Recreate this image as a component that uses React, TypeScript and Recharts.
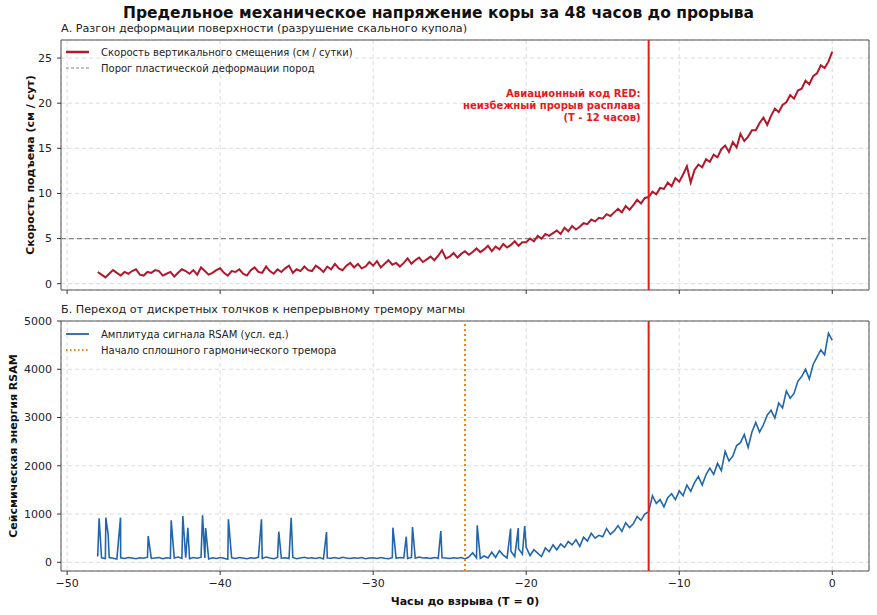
import React from 'react';
import { LineChart, Line, XAxis, YAxis, CartesianGrid, ReferenceLine, ReferenceArea } from 'recharts';

// sampling of the series: every 15 minutes from T-48h to T
const START_HOUR = -48;
const STEP_HOURS = 0.25;

// Uplift rate, cm / day
const upliftRate = [
  1.3, 1.0, 0.7, 1.1, 1.5, 1.2, 0.9, 1.3, 1.1, 1.4, 1.6, 1.0, 0.9, 1.3, 1.2, 1.5,
  1.4, 0.9, 1.1, 1.3, 0.8, 1.2, 1.6, 1.4, 1.1, 1.5, 1.0, 1.8, 1.4, 1.0, 1.2, 1.5,
  1.7, 1.2, 0.9, 1.4, 1.3, 1.6, 1.1, 0.9, 1.5, 1.8, 1.3, 1.2, 1.9, 1.4, 1.1, 1.6,
  1.3, 1.7, 2.0, 1.2, 1.6, 1.4, 1.9, 1.5, 1.4, 2.0, 1.7, 1.3, 1.9, 1.6, 2.2, 1.7,
  1.5, 2.0, 2.3, 1.8, 2.2, 1.7, 1.9, 2.4, 2.0, 2.5, 1.8, 2.2, 2.6, 2.1, 2.3, 1.9,
  2.3, 2.8, 2.2, 2.6, 2.9, 2.4, 2.7, 3.0, 2.6, 3.1, 3.7, 2.8, 3.0, 3.4, 2.9, 3.3,
  3.6, 3.2, 3.5, 3.9, 3.5, 3.8, 4.2, 3.6, 4.1, 3.8, 4.4, 4.0, 4.3, 4.7, 4.2, 4.6,
  4.6, 5.0, 4.7, 5.3, 5.0, 5.5, 5.3, 5.6, 5.9, 5.5, 6.2, 5.8, 6.4, 6.0, 6.3, 6.7,
  6.6, 7.1, 6.9, 7.3, 7.2, 7.7, 7.5, 7.9, 8.3, 7.9, 8.6, 8.2, 8.7, 9.3, 8.9, 9.5,
  9.6, 10.2, 9.9, 10.6, 10.5, 11.2, 10.8, 11.7, 11.3, 12.1, 13.0, 11.2,
  12.6, 13.2, 12.9, 13.8, 13.5, 14.3, 14.0, 14.9, 15.3, 14.6, 15.7, 15.1,
  16.6, 15.8, 16.3, 17.0, 17.0, 17.8, 18.4, 17.6, 18.6, 19.4, 19.0, 19.8,
  20.1, 20.9, 20.5, 21.4, 21.6, 22.5, 22.1, 23.0, 23.3, 24.2, 23.9, 24.6,
  25.7,
];

// RSAM background level, same sampling
const rsamBase = [
  120, 95, 80, 100, 85, 70, 95, 80, 100, 90, 75, 95, 85, 105, 80, 90,
  100, 75, 95, 85, 90, 110, 80, 95, 75, 100, 85, 105, 90, 70, 95, 80,
  100, 85, 65, 95, 80, 100, 90, 75, 95, 85, 105, 80, 110, 90, 75, 100,
  85, 95, 80, 100, 75, 90, 105, 85, 95, 80, 100, 70, 90, 85, 100, 80,
  105, 90, 80, 95, 85, 100, 75, 90, 95, 80, 100, 85, 75, 95, 85, 100,
  90, 80, 100, 85, 110, 90, 95, 80, 100, 85, 95, 90, 80, 95, 85, 100,
  70, 110, 200, 90, 80, 130, 90, 210, 100, 240, 150, 90, 230, 120, 280, 170,
  310, 140, 260, 190, 120, 300, 220, 360, 260, 380, 310, 430, 360, 470, 330, 520,
  440, 600, 500, 560, 530, 700, 580, 650, 760, 640, 820, 720, 800, 950, 870, 1000,
  1050, 1380, 1220, 1300, 1150, 1340, 1420, 1300, 1480, 1380, 1600, 1470,
  1650, 1780, 1600, 1820, 1950, 1820, 2050, 1900, 2300, 2100, 2200, 2420,
  2480, 2650, 2380, 2700, 2900, 2700, 2850, 3050, 3150, 2990, 3300, 3200,
  3550, 3400, 3500, 3750, 3850, 4000, 3800, 4100, 4250, 4400, 4300, 4750,
  4600,
];

// discrete volcano-tectonic bursts
const spikeHours = [
  -47.91, -47.47, -47.32, -46.51, -44.7, -43.2, -42.44, -42.11, -41.15, -40.95,
  -39.46, -37.3, -36.17, -35.36, -33.05, -28.71, -27.84, -27.43, -25.58,
  -23.2, -21.02, -20.52, -20.1,
];
const spikeValues = [
  910, 925, 580, 925, 545, 870, 960, 717, 972, 710,
  890, 890, 635, 925, 628, 717, 531, 731, 648,
  765, 700, 710, 750,
];

const xTicks = [-50, -40, -30, -20, -10, 0];
const upliftTicks = [0, 5, 10, 15, 20, 25];
const rsamTicks = [0, 1000, 2000, 3000, 4000, 5000];

const ALERT_HOUR = -12;
const TREMOR_HOUR = -24;
const THRESHOLD = 5;

const X_DOMAIN: [number, number] = [-50.4, 2.4];
const UP_DOMAIN: [number, number] = [-0.7, 27];
const RSAM_DOMAIN: [number, number] = [-180, 5000];

const FONT = '"DejaVu Sans", Verdana, sans-serif';
const C_UPLIFT = '#b2182b';
const C_RSAM = '#2166ac';
const C_ALERT = '#e8191c';
const C_TREMOR = '#ff7f0e';

const upliftData = upliftRate.map((v, i) => ({ t: START_HOUR + i * STEP_HOURS, v }));

const rsamData = [
  ...rsamBase.map((v, i) => ({ t: START_HOUR + i * STEP_HOURS, v })),
  ...spikeHours.map((t, i) => ({ t, v: spikeValues[i] })),
].sort((a, b) => a.t - b.t);

const minus = (v: number) => String(v).replace('-', '\u2212');

const AlertLabel = (props: any) => {
  const vb = props.viewBox || {};
  const x = vb.x - 8;
  return (
    <text x={x} y={vb.y} textAnchor="end" fill={C_ALERT} fontSize={10} fontWeight="bold" fontFamily={FONT}>
      <tspan x={x} dy={56.5}>Авиационный код RED:</tspan>
      <tspan x={x} dy={12.3}>неизбежный прорыв расплава</tspan>
      <tspan x={x} dy={12.3}>(T - 12 часов)</tspan>
    </text>
  );
};

const LegendRow = ({ color, dash, width, label }: { color: string; dash?: string; width: number; label: string }) => (
  <div style={{ display: 'flex', alignItems: 'center', height: 16 }}>
    <svg width={30} height={8} style={{ marginRight: 7 }}>
      <line x1={2} y1={4} x2={25} y2={4} stroke={color} strokeWidth={width} strokeDasharray={dash} />
    </svg>
    <span>{label}</span>
  </div>
);

const tickStyle = { fill: '#222', fontSize: 11, fontFamily: FONT };
const axisLabelStyle = { textAnchor: 'middle' as const, fontWeight: 'bold', fontSize: 11, fill: '#111', fontFamily: FONT };

export default function App() {
  return (
    <div style={{ position: 'absolute', left: 0, top: 0, width: 877, height: 615, background: '#fff', fontFamily: FONT }}>
      <div style={{ position: 'absolute', left: 0, width: 877, top: 4, textAlign: 'center', fontSize: 15.5, fontWeight: 'bold', color: '#111' }}>
        Предельное механическое напряжение коры за 48 часов до прорыва
      </div>
      <div style={{ position: 'absolute', left: 61, top: 22, fontSize: 11.2, color: '#222' }}>
        А. Разгон деформации поверхности (разрушение скального купола)
      </div>
      <div style={{ position: 'absolute', left: 61, top: 303, fontSize: 11.2, color: '#222' }}>
        Б. Переход от дискретных толчков к непрерывному тремору магмы
      </div>

      <div style={{ position: 'absolute', left: 0, top: 0 }}>
        <LineChart width={877} height={300} data={upliftData} margin={{ top: 40, right: 8, bottom: 0, left: 0 }}>
          <CartesianGrid strokeDasharray="4 3" stroke="#dcdcdc" />
          <XAxis
            dataKey="t"
            type="number"
            domain={X_DOMAIN}
            ticks={xTicks}
            allowDataOverflow
            height={10}
            tickSize={4}
            tickFormatter={() => ''}
            axisLine={false}
            tickLine={{ stroke: '#333' }}
          />
          <YAxis
            type="number"
            domain={UP_DOMAIN}
            ticks={upliftTicks}
            allowDataOverflow
            width={61}
            tickSize={4}
            tickMargin={5}
            tick={tickStyle}
            axisLine={false}
            tickLine={{ stroke: '#333' }}
            label={{ value: 'Скорость подъема (см / сут)', angle: -90, position: 'insideLeft', offset: 30, style: axisLabelStyle }}
          />
          <ReferenceLine y={THRESHOLD} stroke="#888" strokeDasharray="5 3" strokeWidth={1.2} />
          <Line dataKey="v" stroke={C_UPLIFT} strokeWidth={2} dot={false} isAnimationActive={false} />
          <ReferenceLine x={ALERT_HOUR} stroke={C_ALERT} strokeWidth={2} label={{ content: AlertLabel }} />
          <ReferenceArea x1={X_DOMAIN[0]} x2={X_DOMAIN[1]} y1={UP_DOMAIN[0]} y2={UP_DOMAIN[1]} fill="none" stroke="#555" strokeWidth={1} />
        </LineChart>
      </div>

      <div style={{ position: 'absolute', left: 0, top: 300 }}>
        <LineChart width={877} height={315} data={rsamData} margin={{ top: 21, right: 8, bottom: 0, left: 0 }}>
          <CartesianGrid strokeDasharray="4 3" stroke="#dcdcdc" />
          <XAxis
            dataKey="t"
            type="number"
            domain={X_DOMAIN}
            ticks={xTicks}
            allowDataOverflow
            height={44}
            tickSize={4}
            tickMargin={4}
            tick={tickStyle}
            tickFormatter={minus}
            axisLine={false}
            tickLine={{ stroke: '#333' }}
            label={{ value: 'Часы до взрыва (T = 0)', position: 'insideBottom', offset: 10, style: axisLabelStyle }}
          />
          <YAxis
            type="number"
            domain={RSAM_DOMAIN}
            ticks={rsamTicks}
            allowDataOverflow
            width={61}
            tickSize={4}
            tickMargin={5}
            tick={tickStyle}
            axisLine={false}
            tickLine={{ stroke: '#333' }}
            label={{ value: 'Сейсмическая энергия RSAM', angle: -90, position: 'insideLeft', offset: 13, style: axisLabelStyle }}
          />
          <Line dataKey="v" stroke={C_RSAM} strokeWidth={1.6} dot={false} isAnimationActive={false} />
          <ReferenceLine x={TREMOR_HOUR} stroke={C_TREMOR} strokeDasharray="2 3" strokeWidth={2} />
          <ReferenceLine x={ALERT_HOUR} stroke={C_ALERT} strokeWidth={2} />
          <ReferenceArea x1={X_DOMAIN[0]} x2={X_DOMAIN[1]} y1={RSAM_DOMAIN[0]} y2={RSAM_DOMAIN[1]} fill="none" stroke="#555" strokeWidth={1} />
        </LineChart>
      </div>

      <div style={{ position: 'absolute', left: 64, top: 44, fontSize: 10, color: '#222' }}>
        <LegendRow color={C_UPLIFT} width={2.5} label="Скорость вертикального смещения (см / сутки)" />
        <LegendRow color="#888" width={1.2} dash="3 2" label="Порог пластической деформации пород" />
      </div>
      <div style={{ position: 'absolute', left: 64, top: 326, fontSize: 10, color: '#222' }}>
        <LegendRow color={C_RSAM} width={1.8} label="Амплитуда сигнала RSAM (усл. ед.)" />
        <LegendRow color={C_TREMOR} width={1.8} dash="1.5 2.5" label="Начало сплошного гармонического тремора" />
      </div>
    </div>
  );
}
